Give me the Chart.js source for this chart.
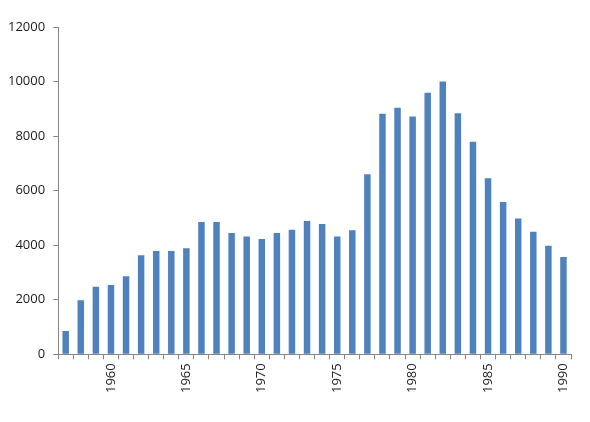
<!DOCTYPE html>
<html>
<head>
  <title>Bar chart 1957-1990</title>
  <script src="https://cdn.jsdelivr.net/npm/chart.js"></script>
  <style>
    html, body { margin: 0; padding: 0; background: #fff; }
    #wrap { width: 590px; height: 422px; }
  </style>
</head>
<body>
  <div id="wrap"><canvas id="myChart" width="590" height="422"></canvas></div>
  <script>
    // years on the x axis
    var years = [1957, 1958, 1959, 1960, 1961, 1962, 1963, 1964, 1965, 1966,
                 1967, 1968, 1969, 1970, 1971, 1972, 1973, 1974, 1975, 1976,
                 1977, 1978, 1979, 1980, 1981, 1982, 1983, 1984, 1985, 1986,
                 1987, 1988, 1989, 1990];

    // values
    var values = [850, 1980, 2480, 2540, 2860, 3630, 3790, 3790, 3890, 4850,
                  4850, 4450, 4320, 4230, 4450, 4570, 4890, 4780, 4320, 4550,
                  6600, 8820, 9040, 8720, 9590, 10000, 8840, 7790, 6450, 5580,
                  4980, 4490, 3980, 3570];

    // only every fifth year gets a label
    var shownYears = [1960, 1965, 1970, 1975, 1980, 1985, 1990];

    var axisColor = '#868686';
    var font = { family: '"Open Sans", sans-serif', size: 13 };

    var ctx = document.getElementById('myChart').getContext('2d');
    var myChart = new Chart(ctx, {
      type: 'bar',
      data: {
        labels: years.map(String),
        datasets: [{
          data: values,
          backgroundColor: '#4F81BD',
          borderWidth: 0,
          barPercentage: 0.43,
          categoryPercentage: 1
        }]
      },
      options: {
        responsive: false,
        animation: false,
        layout: { padding: { left: 0, right: 19, top: 27, bottom: 25 } },
        plugins: {
          legend: { display: false },
          tooltip: { enabled: false }
        },
        scales: {
          x: {
            offset: true,
            grid: {
              offset: true,
              drawOnChartArea: false,
              tickLength: 5,
              color: axisColor
            },
            border: { color: axisColor },
            ticks: {
              autoSkip: false,
              minRotation: 90,
              maxRotation: 90,
              padding: 4,
              color: '#1a1a1a',
              font: font,
              callback: function(value, index) {
                return shownYears.indexOf(years[index]) >= 0 ? String(years[index]) : '';
              }
            }
          },
          y: {
            min: 0,
            max: 12000,
            grid: {
              drawOnChartArea: false,
              tickLength: 5,
              color: axisColor
            },
            border: { color: axisColor },
            ticks: {
              stepSize: 2000,
              padding: 8,
              color: '#1a1a1a',
              font: font,
              callback: function(value) { return String(value); }
            }
          }
        }
      }
    });
  </script>
</body>
</html>
